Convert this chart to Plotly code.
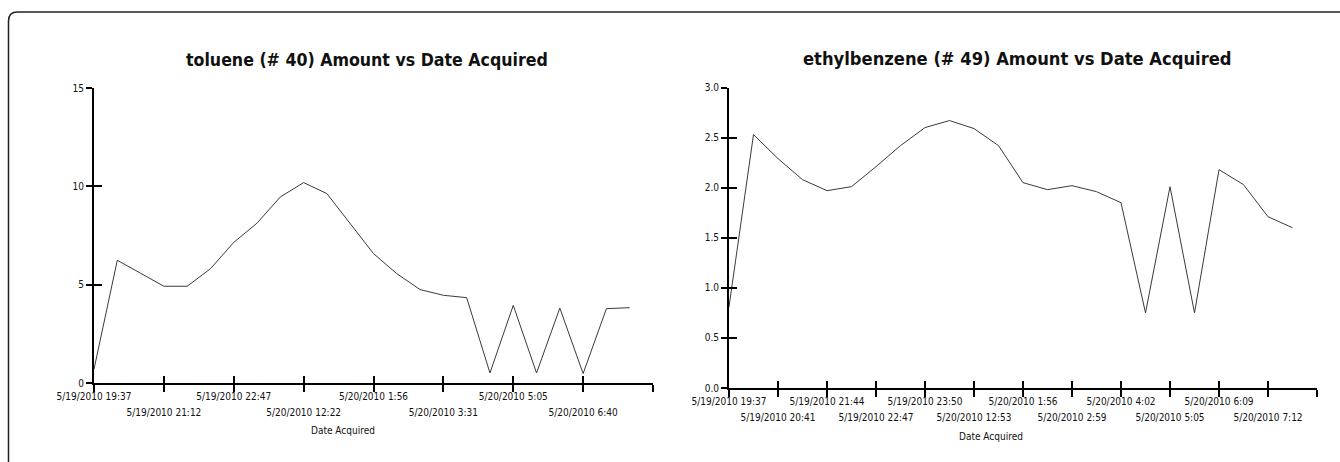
import plotly.graph_objects as go

# ---- data -------------------------------------------------------------
toluene_amount = [0.70, 6.24, 5.58, 4.92, 4.92, 5.81, 7.15, 8.13, 9.46, 10.19,
                  9.63, 8.10, 6.58, 5.56, 4.75, 4.46, 4.34, 0.51, 3.95, 0.51,
                  3.81, 0.48, 3.78, 3.83]
ethylbenzene_amount = [0.81, 2.53, 2.29, 2.08, 1.97, 2.01, 2.21, 2.42, 2.60, 2.67,
                       2.59, 2.42, 2.05, 1.98, 2.02, 1.96, 1.85, 0.75, 2.01, 0.75,
                       2.18, 2.03, 1.71, 1.60]
sample_index = list(range(24))

toluene_tick_pos = [0, 3, 6, 9, 12, 15, 18, 21, 24]
toluene_tick_labels = ["5/19/2010 19:37", "5/19/2010 21:12", "5/19/2010 22:47",
                       "5/20/2010 12:22", "5/20/2010 1:56", "5/20/2010 3:31",
                       "5/20/2010 5:05", "5/20/2010 6:40", ""]
ethyl_tick_pos = [0, 2, 4, 6, 8, 10, 12, 14, 16, 18, 20, 22, 24]
ethyl_tick_labels = ["5/19/2010 19:37", "5/19/2010 20:41", "5/19/2010 21:44",
                     "5/19/2010 22:47", "5/19/2010 23:50", "5/20/2010 12:53",
                     "5/20/2010 1:56", "5/20/2010 2:59", "5/20/2010 4:02",
                     "5/20/2010 5:05", "5/20/2010 6:09", "5/20/2010 7:12", ""]
toluene_y_ticks = [0, 5, 10, 15]
ethyl_y_ticks = [0.0, 0.5, 1.0, 1.5, 2.0, 2.5, 3.0]

# ---- page geometry (pixels) --------------------------------------------
W, H = 1340, 462


def px(x):
    return x / W


def py(y):
    return 1 - y / H


FAMILY = "DejaVu Sans Condensed, DejaVu Sans"
TICK_FONT = dict(family=FAMILY, size=10, color="#111")
TITLE_FONT = dict(family=FAMILY, size=17.6, color="#111", weight="bold")
LINE = dict(color="#3a3a3a", width=1)


def row_labels(labels, keep_even):
    return [t if (i % 2 == 0) == keep_even else "" for i, t in enumerate(labels)]


fig = go.Figure()
# visible series
fig.add_trace(go.Scatter(x=sample_index, y=toluene_amount, mode="lines", line=LINE,
                         xaxis="x", yaxis="y", showlegend=False))
fig.add_trace(go.Scatter(x=sample_index, y=ethylbenzene_amount, mode="lines",
                         line=LINE, xaxis="x2", yaxis="y2", showlegend=False))
# transparent copies bind the overlay axes that carry the inner tick halves
fig.add_trace(go.Scatter(x=sample_index, y=toluene_amount, mode="lines", line=LINE,
                         opacity=0, hoverinfo="skip",
                         xaxis="x3", yaxis="y3", showlegend=False))
fig.add_trace(go.Scatter(x=sample_index, y=ethylbenzene_amount, mode="lines",
                         line=LINE, opacity=0, hoverinfo="skip",
                         xaxis="x4", yaxis="y4", showlegend=False))

base_x = dict(range=[0, 24], showgrid=False, zeroline=False, tickmode="array",
              tickfont=TICK_FONT, tickcolor="#000", tickwidth=2, fixedrange=True,
              automargin=False)
base_y = dict(showgrid=False, zeroline=False, tickmode="array",
              tickfont=TICK_FONT, tickcolor="#000", tickwidth=2, fixedrange=True,
              automargin=False)

left_xd = [px(94), px(653)]
left_yd = [py(383), py(88)]
right_xd = [px(729), px(1317)]
right_yd = [py(388), py(87.5)]

layout_axes = dict(
    # toluene panel
    xaxis=dict(base_x, domain=left_xd, anchor="y", showline=True, linewidth=2,
               linecolor="#000", ticks="outside", ticklen=7,
               tickvals=toluene_tick_pos,
               ticktext=row_labels(toluene_tick_labels, True),
               ticklabelstandoff=-4),
    xaxis3=dict(base_x, overlaying="x", anchor="y", showline=False,
                ticks="inside", ticklen=7, tickvals=toluene_tick_pos,
                ticktext=row_labels(toluene_tick_labels, False),
                ticklabelstandoff=22),
    yaxis=dict(base_y, domain=left_yd, anchor="x", range=[0, 15], showline=True,
               linewidth=2, linecolor="#000", ticks="outside", ticklen=6,
               tickvals=toluene_y_ticks,
               ticktext=[str(v) for v in toluene_y_ticks]),
    yaxis3=dict(base_y, overlaying="y", anchor="x", range=[0, 15],
                showline=False, ticks="inside", ticklen=8,
                tickvals=toluene_y_ticks, showticklabels=False),
    # ethylbenzene panel
    xaxis2=dict(base_x, domain=right_xd, anchor="y2", showline=True, linewidth=2,
                linecolor="#000", ticks="outside", ticklen=7,
                tickvals=ethyl_tick_pos,
                ticktext=row_labels(ethyl_tick_labels, True),
                ticklabelstandoff=-4),
    xaxis4=dict(base_x, overlaying="x2", anchor="y2", showline=False,
                ticks="inside", ticklen=7, tickvals=ethyl_tick_pos,
                ticktext=row_labels(ethyl_tick_labels, False),
                ticklabelstandoff=22),
    yaxis2=dict(base_y, domain=right_yd, anchor="x2", range=[0, 3.0],
                showline=True, linewidth=2, linecolor="#000", ticks="outside",
                ticklen=6, tickvals=ethyl_y_ticks,
                ticktext=[f"{v:.1f}" for v in ethyl_y_ticks]),
    yaxis4=dict(base_y, overlaying="y2", anchor="x2", range=[0, 3.0],
                showline=False, ticks="inside", ticklen=8,
                tickvals=ethyl_y_ticks, showticklabels=False),
)

annotations = [
    dict(text="toluene (# 40) Amount vs Date Acquired", x=px(366.5), y=py(60),
         font=TITLE_FONT),
    dict(text="ethylbenzene (# 49) Amount vs Date Acquired", x=px(1017), y=py(59),
         font=dict(TITLE_FONT, size=18.2)),
    dict(text="Date Acquired", x=px(343), y=py(430.5), font=TICK_FONT),
    dict(text="Date Acquired", x=px(990.5), y=py(436), font=TICK_FONT),
]
for a in annotations:
    a.update(xref="paper", yref="paper", showarrow=False,
             xanchor="center", yanchor="middle")

# rounded frame around both panels
r = 9
x0, y0, x1, y1 = 8.5, 12, 1352, 474
frame_path = (
    f"M {px(x0)},{py(y0 + r)} "
    f"Q {px(x0)},{py(y0)} {px(x0 + r)},{py(y0)} "
    f"L {px(x1 - r)},{py(y0)} "
    f"Q {px(x1)},{py(y0)} {px(x1)},{py(y0 + r)} "
    f"L {px(x1)},{py(y1 - r)} "
    f"Q {px(x1)},{py(y1)} {px(x1 - r)},{py(y1)} "
    f"L {px(x0 + r)},{py(y1)} "
    f"Q {px(x0)},{py(y1)} {px(x0)},{py(y1 - r)} Z"
)

fig.update_layout(
    width=W, height=H,
    margin=dict(l=0, r=0, t=0, b=0, autoexpand=False),
    paper_bgcolor="white", plot_bgcolor="white",
    showlegend=False,
    annotations=annotations,
    shapes=[dict(type="path", path=frame_path, xref="paper", yref="paper",
                 line=dict(color="#222", width=1.5), layer="below")],
    **layout_axes,
)

fig.write_html("out.html", config={"displayModeBar": False})
